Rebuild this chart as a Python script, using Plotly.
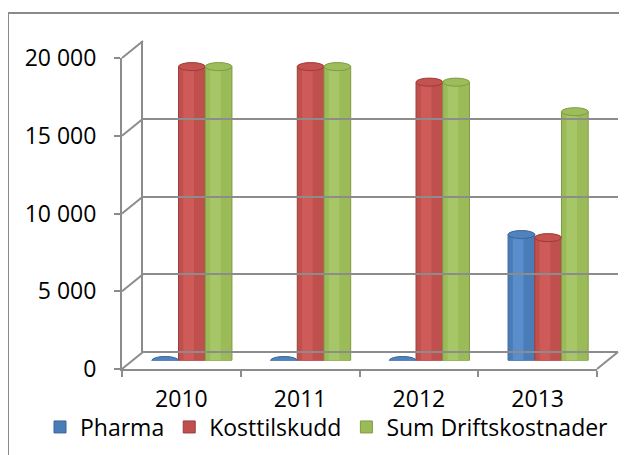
import plotly.graph_objects as go

years = ["2010", "2011", "2012", "2013"]
pharma = [0, 0, 0, 8100]
kosttilskudd = [18900, 18900, 17900, 7900]
sum_drift = [18900, 18900, 17900, 16000]
series_names = ["Pharma", "Kosttilskudd", "Sum Driftskostnader"]
y_ticks = [0, 5000, 10000, 15000, 20000]
y_ticklabels = ["0", "5 000", "10 000", "15 000", "20 000"]

W, H = 627, 455
OFF = 8  # page body margin
def px(x): return (x - OFF) / W
def py(y): return 1 - (y - OFF) / H

GRID = "#8C8C8C"
FONT = "Open Sans"
base_cols = ["#4A7DB8", "#C0504D", "#9BBB59"]
edge_cols = ["#3B6698", "#9E3C3A", "#7F9B45"]
hi_cols = ["#5C91CF", "#D15E5B", "#A9C96A"]
cap_cols = ["#4F82BE", "#C4524F", "#9DBD5B"]

# geometry (pixels): front plane, middle (bars), back wall
FX0, FX1, F0, FTOP = 122, 597, 369, 58
DX, DY = 21, 17
MX0, MX1 = FX0 + DX / 2, FX1 + DX / 2
M0, MTOP = F0 - DY / 2, FTOP - DY / 2
BX0, BX1, B0, BTOP = FX0 + DX, FX1 + DX, F0 - DY, FTOP - DY

fig = go.Figure()
bw = 0.225
offsets = [-1.5 * bw, -0.5 * bw, 0.5 * bw]
data = [pharma, kosttilskudd, sum_drift]
cap_h = 520  # ellipse height in data units (~8 px)
shapes = []
for i, (name, vals) in enumerate(zip(series_names, data)):
    fig.add_trace(go.Bar(x=years, y=vals, name=name, width=bw, offset=offsets[i],
                         marker=dict(color=base_cols[i], line=dict(color=edge_cols[i], width=1)),
                         xaxis="x", yaxis="y", showlegend=True))
    fig.add_trace(go.Bar(x=years, y=vals, name=name, width=bw * 0.4, offset=offsets[i] + bw * 0.18,
                         marker=dict(color=hi_cols[i], line=dict(width=0), opacity=0.8),
                         xaxis="x", yaxis="y", showlegend=False, hoverinfo="skip"))
    for j, v in enumerate(vals):
        x0 = j + offsets[i]
        if v > 0:
            # rounded bottom (only lower half shows beneath the bar)
            shapes.append(dict(type="circle", xref="x", yref="y", layer="below",
                               x0=x0, x1=x0 + bw, y0=-cap_h / 2, y1=cap_h / 2,
                               fillcolor=edge_cols[i], line=dict(width=0)))
        # top cap
        shapes.append(dict(type="circle", xref="x", yref="y", layer="above",
                           x0=x0, x1=x0 + bw, y0=v - cap_h / 2, y1=v + cap_h / 2,
                           fillcolor=cap_cols[i], line=dict(color=edge_cols[i], width=1)))

# invisible helpers so the front / back axes exist
fig.add_trace(go.Scatter(x=years, y=[0] * 4, mode="markers", marker=dict(opacity=0),
                         xaxis="x2", yaxis="y2", showlegend=False, hoverinfo="skip"))
fig.add_trace(go.Scatter(x=[0, 1], y=[0, 0], mode="markers", marker=dict(opacity=0),
                         xaxis="x3", yaxis="y3", showlegend=False, hoverinfo="skip"))

def fy(v): return F0 - v / 20000 * (F0 - FTOP)
for v in y_ticks:
    shapes.append(dict(type="line", xref="paper", yref="paper", layer="below",
                       x0=px(FX0), y0=py(fy(v)), x1=px(BX0), y1=py(fy(v) - DY),
                       line=dict(color=GRID, width=2)))
shapes.append(dict(type="line", xref="paper", yref="paper", layer="below",
                   x0=px(FX1), y0=py(F0), x1=px(BX1), y1=py(B0),
                   line=dict(color=GRID, width=2)))
# outer chart border
shapes.append(dict(type="path", xref="paper", yref="paper", layer="below",
                   path=f"M {px(8)},{py(470)} L {px(8)},{py(13)} L {px(640)},{py(13)}",
                   line=dict(color="#8A8A8A", width=2)))

fig.update_layout(
    width=W, height=H,
    margin=dict(l=0, r=0, t=0, b=0, pad=0, autoexpand=False),
    paper_bgcolor="white", plot_bgcolor="rgba(0,0,0,0)",
    barmode="overlay",
    font=dict(family=FONT, size=23, color="black"),
    shapes=shapes,
    xaxis=dict(domain=[px(MX0), px(MX1)], anchor="y", type="category",
               categoryorder="array", categoryarray=years, range=[-0.5, 3.5],
               showticklabels=False, showgrid=False, showline=False, zeroline=False,
               automargin=False),
    yaxis=dict(domain=[py(M0), py(MTOP)], anchor="x", range=[0, 20000],
               showticklabels=False, showgrid=False, showline=False, zeroline=False,
               automargin=False),
    xaxis2=dict(domain=[px(FX0), px(FX1)], anchor="y2", type="category",
                categoryorder="array", categoryarray=years, range=[-0.5, 3.5],
                tickson="boundaries", ticks="outside", ticklen=6, tickwidth=2, tickcolor=GRID,
                showline=True, linecolor=GRID, linewidth=2, showgrid=False, zeroline=False,
                ticklabelstandoff=8, tickfont=dict(size=23), automargin=False),
    yaxis2=dict(domain=[py(F0), py(FTOP)], anchor="x2", range=[0, 20000],
                tickvals=y_ticks, ticktext=y_ticklabels, ticks="outside", ticklen=6,
                tickwidth=2, tickcolor=GRID, showline=True, linecolor=GRID, linewidth=2,
                showgrid=False, zeroline=False, ticklabelstandoff=13, tickfont=dict(size=23),
                automargin=False),
    xaxis3=dict(domain=[px(BX0), px(BX1)], anchor="y3", range=[0, 1], showticklabels=False,
                showgrid=False, showline=False, zeroline=False, automargin=False),
    yaxis3=dict(domain=[py(B0), py(BTOP)], anchor="x3", range=[0, 20000], tickvals=y_ticks,
                showticklabels=False, showgrid=True, gridcolor=GRID, gridwidth=2,
                showline=True, linecolor=GRID, linewidth=2, zeroline=True,
                zerolinecolor=GRID, zerolinewidth=2, ticks="", automargin=False),
    legend=dict(orientation="h", x=px(40), xanchor="left", y=py(427), yanchor="middle",
                bgcolor="rgba(0,0,0,0)", font=dict(size=23), itemwidth=30,
                tracegroupgap=0),
    showlegend=True,
)
fig.write_html("out.html")
